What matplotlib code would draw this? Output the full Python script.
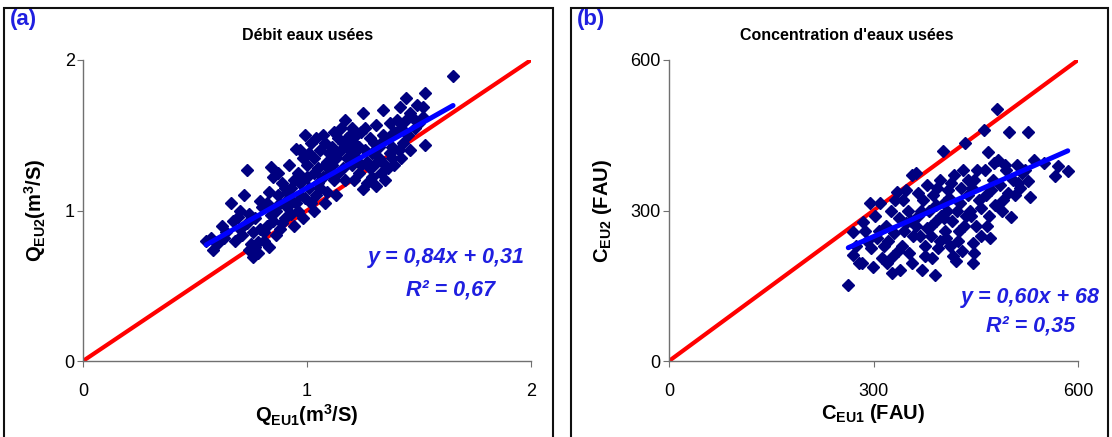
import matplotlib
matplotlib.use("Agg")
import matplotlib.pyplot as plt
from matplotlib.patches import Rectangle

plt.rcParams['font.family'] = ['Liberation Sans', 'DejaVu Sans']
plt.rcParams['mathtext.fontset'] = 'custom'
plt.rcParams['mathtext.rm'] = 'Liberation Sans'
plt.rcParams['mathtext.bf'] = 'Liberation Sans:bold'
plt.rcParams['mathtext.it'] = 'Liberation Sans:italic'

# ---------------- data: panel (a) flow ----------------
q_eu1 = [0.55, 0.58, 0.60, 0.57, 0.62, 0.63, 0.64, 0.66, 0.67, 0.69, 0.70, 0.68, 0.70,
         0.72, 0.73, 0.74, 0.76, 0.75, 0.73, 0.71, 0.74,
         0.77, 0.78, 0.79, 0.77, 0.80, 0.78, 0.79, 0.76,
         0.81, 0.82, 0.84, 0.85, 0.83, 0.84, 0.82, 0.81, 0.85, 0.83,
         0.86, 0.87, 0.88, 0.89, 0.86, 0.88, 0.90, 0.87, 0.89, 0.90,
         0.91, 0.92, 0.93, 0.94, 0.95, 0.92, 0.93, 0.94, 0.91, 0.95,
         0.96, 0.97, 0.98, 0.99, 0.96, 0.97, 0.98, 1.00, 0.99, 1.00, 0.97,
         1.01, 1.02, 1.03, 1.04, 1.02, 1.03, 1.04, 1.05, 1.01, 1.05, 1.03,
         1.06, 1.07, 1.08, 1.09, 1.06, 1.08, 1.10, 1.07, 1.09, 1.10, 1.08,
         1.11, 1.12, 1.13, 1.14, 1.11, 1.12, 1.13, 1.15, 1.14, 1.15, 1.12,
         1.16, 1.17, 1.18, 1.19, 1.16, 1.18, 1.20, 1.17, 1.19, 1.20, 1.18,
         1.21, 1.22, 1.23, 1.24, 1.21, 1.22, 1.25, 1.25, 1.23, 1.24, 1.21,
         1.26, 1.27, 1.28, 1.29, 1.26, 1.28, 1.30, 1.27, 1.29, 1.30,
         1.31, 1.31, 1.32, 1.33, 1.34, 1.32, 1.34, 1.35, 1.33, 1.35,
         1.36, 1.37, 1.38, 1.39, 1.36, 1.38, 1.40, 1.37, 1.39,
         1.415, 1.42, 1.44, 1.43, 1.41, 1.44, 1.45, 1.42,
         1.46, 1.47, 1.48, 1.49, 1.46, 1.50,
         1.518, 1.527, 1.527, 1.52, 1.652]
q_eu2 = [0.80, 0.74, 0.78, 0.82, 0.90, 0.82, 0.86, 1.05, 0.93, 0.96, 0.88, 0.80, 1.00,
         1.10, 1.27, 0.74, 0.69, 0.78, 0.92, 0.84, 0.98,
         0.76, 0.79, 0.88, 0.95, 1.02, 0.72, 1.06, 0.86,
         0.80, 0.90, 1.29, 1.22, 1.12, 0.97, 1.05, 0.86, 0.93, 0.76,
         1.00, 1.10, 0.88, 1.18, 0.84, 1.05, 0.95, 1.25, 0.92, 1.15,
         1.02, 1.30, 0.98, 1.20, 1.41, 1.08, 1.15, 0.90, 1.12, 1.05,
         1.25, 1.10, 1.35, 1.50, 1.00, 1.18, 0.95, 1.22, 1.08, 1.30, 1.40,
         1.15, 1.45, 1.25, 1.48, 1.05, 1.35, 1.10, 1.28, 1.38, 1.18, 1.00,
         1.40, 1.22, 1.05, 1.32, 1.15, 1.45, 1.25, 1.50, 1.12, 1.38, 1.30,
         1.42, 1.20, 1.35, 1.48, 1.30, 1.52, 1.10, 1.40, 1.25, 1.55, 1.38,
         1.45, 1.60, 1.35, 1.50, 1.28, 1.42, 1.30, 1.20, 1.40, 1.55, 1.48,
         1.45, 1.35, 1.25, 1.52, 1.38, 1.50, 1.14, 1.65, 1.42, 1.30, 1.20,
         1.40, 1.32, 1.48, 1.22, 1.55, 1.28, 1.45, 1.18, 1.38, 1.30,
         1.57, 1.16, 1.42, 1.25, 1.67, 1.35, 1.50, 1.30, 1.45, 1.20,
         1.48, 1.58, 1.35, 1.52, 1.28, 1.42, 1.60, 1.38, 1.30,
         1.69, 1.55, 1.75, 1.45, 1.40, 1.60, 1.50, 1.35,
         1.40, 1.62, 1.55, 1.70, 1.65, 1.58,
         1.69, 1.78, 1.435, 1.62, 1.894]
fit_a = (0.84, 0.31)
r2_a = "0,67"

# ---------------- data: panel (b) concentration ----------------
c_eu1 = [263, 270, 270, 275, 278,
         283, 285, 295, 299, 290, 288, 297,
         310, 305, 312, 318, 302, 315, 308, 320,
         327, 334, 339, 325, 330, 336, 322, 338, 332, 328,
         357, 345, 350, 342, 355, 348, 352, 358, 344, 356, 347,
         362, 371, 365, 368, 372, 375, 378, 363, 370, 376, 366, 379,
         390, 382, 385, 388, 392, 395, 398, 384, 391, 397, 386, 399, 393,
         402, 405, 408, 410, 412, 415, 418, 403, 407, 414, 417, 404, 411,
         434, 422, 425, 428, 430, 432, 436, 438, 424, 427, 433, 439, 421,
         446, 446, 447, 442, 445, 450, 452, 455, 458, 448, 443, 457,
         462, 468, 471, 465, 470, 475, 478, 463, 466, 472, 477,
         481, 499, 485, 490, 495, 488, 483, 497, 493,
         502, 505, 510, 515, 508, 518, 512,
         527, 527, 529, 522, 535,
         566, 571, 585, 550]
c_eu2 = [152, 211, 257, 230, 195,
         195, 277, 315, 187, 240, 260, 225,
         315, 245, 205, 270, 290, 230, 260, 195,
         175, 337, 181, 300, 255, 220, 240, 285, 320, 210,
         371, 260, 300, 230, 280, 340, 215, 250, 320, 195, 275,
         375, 181, 290, 250, 320, 230, 350, 270, 300, 210, 335, 265,
         171, 300, 250, 330, 280, 225, 360, 270, 310, 240, 205, 290, 345,
         419, 260, 300, 340, 230, 280, 370, 315, 245, 355, 210, 285, 325,
         435, 300, 260, 345, 220, 380, 290, 330, 240, 315, 270, 360, 200,
         235, 195, 215, 300, 345, 270, 380, 320, 250, 360, 290, 305,
         460, 417, 245, 330, 290, 360, 310, 380, 270, 340, 395,
         502, 456, 350, 320, 380, 300, 400, 335, 390,
         287, 360, 390, 345, 330, 375, 354,
         456, 359, 327, 380, 400,
         369, 389, 379, 395]
fit_b = (0.60, 68)
r2_b = "0,35"

W, H = 1112, 437
fig = plt.figure(figsize=(W / 100, H / 100), dpi=100)

navy = '#000080'
red = '#ff0000'
blue = '#0000ff'
label_blue = '#1f1fe0'


def fx(px):
    return px / W


def fy(py):
    return 1 - py / H


# panel frames
for x0, x1 in [(4, 553), (571, 1108)]:
    fig.add_artist(Rectangle((fx(x0), -0.02), fx(x1) - fx(x0), fy(8) + 0.02,
                             transform=fig.transFigure, fill=False,
                             edgecolor='#101010', linewidth=1.5))


def setup(ax, lim, ticks, ticklabels):
    ax.set_xlim(0, lim)
    ax.set_ylim(0, lim)
    ax.set_xticks(ticks)
    ax.set_yticks(ticks)
    ax.set_xticklabels(ticklabels)
    ax.set_yticklabels(ticklabels)
    for s in ['top', 'right']:
        ax.spines[s].set_visible(False)
    for s in ['left', 'bottom']:
        ax.spines[s].set_color('#707070')
        ax.spines[s].set_linewidth(1.0)
    ax.tick_params(axis='x', direction='out', length=4, color='#707070',
                   labelsize=13, pad=12)
    ax.tick_params(axis='y', direction='out', length=4, color='#707070',
                   labelsize=13, pad=2)


TXT = 15.5
AXL = 14.5

# ---- panel (a)
ax1 = fig.add_axes([fx(83), fy(361), fx(531) - fx(83), fy(60) - fy(361)])
setup(ax1, 2, [0, 1, 2], ['0', '1', '2'])
ax1.plot([0, 2], [0, 2], color=red, linewidth=3, zorder=2, solid_capstyle='butt')
ax1.plot(q_eu1, q_eu2, linestyle='none', marker='D', markersize=6,
         color=navy, markeredgecolor=navy, zorder=3, clip_on=False)
xa = [min(q_eu1), max(q_eu1)]
ax1.plot(xa, [fit_a[0] * v + fit_a[1] for v in xa], color=blue, linewidth=3.6,
         zorder=4, solid_capstyle='round')
ax1.set_xlabel(r'$\mathbf{Q_{EU1}(m^3/S)}$', fontsize=AXL, labelpad=1)
ax1.set_ylabel(r'$\mathbf{Q_{EU2}(m^3/S)}$', fontsize=AXL, labelpad=12)
fig.text(fx(308), fy(35), 'Débit eaux usées', ha='center', va='center',
         fontsize=11.5, fontweight='bold')
fig.text(fx(10), fy(20), '(a)', ha='left', va='center', fontsize=16,
         fontweight='bold', color=label_blue)
fig.text(fx(525), fy(258), 'y = 0,84x + 0,31', ha='right', va='center',
         fontsize=TXT, fontweight='bold', fontstyle='italic', color=label_blue)
fig.text(fx(495), fy(290), 'R² = ' + r2_a, ha='right', va='center',
         fontsize=TXT, fontweight='bold', fontstyle='italic', color=label_blue)

# ---- panel (b)
ax2 = fig.add_axes([fx(669), fy(361), fx(1078) - fx(669), fy(60) - fy(361)])
setup(ax2, 600, [0, 300, 600], ['0', '300', '600'])
ax2.plot([0, 600], [0, 600], color=red, linewidth=3, zorder=2, solid_capstyle='butt')
ax2.plot(c_eu1, c_eu2, linestyle='none', marker='D', markersize=6,
         color=navy, markeredgecolor=navy, zorder=3, clip_on=False)
xb = [min(c_eu1), max(c_eu1)]
ax2.plot(xb, [fit_b[0] * v + fit_b[1] for v in xb], color=blue, linewidth=3.6,
         zorder=4, solid_capstyle='round')
ax2.set_xlabel(r'$\mathbf{C_{EU1}}$ (FAU)', fontsize=AXL, fontweight='bold', labelpad=1)
ax2.set_ylabel(r'$\mathbf{C_{EU2}}$ (FAU)', fontsize=AXL, fontweight='bold', labelpad=12)
fig.text(fx(847), fy(35), "Concentration d'eaux usées", ha='center', va='center',
         fontsize=11.5, fontweight='bold')
fig.text(fx(577), fy(20), '(b)', ha='left', va='center', fontsize=16,
         fontweight='bold', color=label_blue)
fig.text(fx(1100), fy(298), 'y = 0,60x + 68', ha='right', va='center',
         fontsize=TXT, fontweight='bold', fontstyle='italic', color=label_blue)
fig.text(fx(1075), fy(326), 'R² = ' + r2_b, ha='right', va='center',
         fontsize=TXT, fontweight='bold', fontstyle='italic', color=label_blue)

fig.savefig('out.png', dpi=100)
